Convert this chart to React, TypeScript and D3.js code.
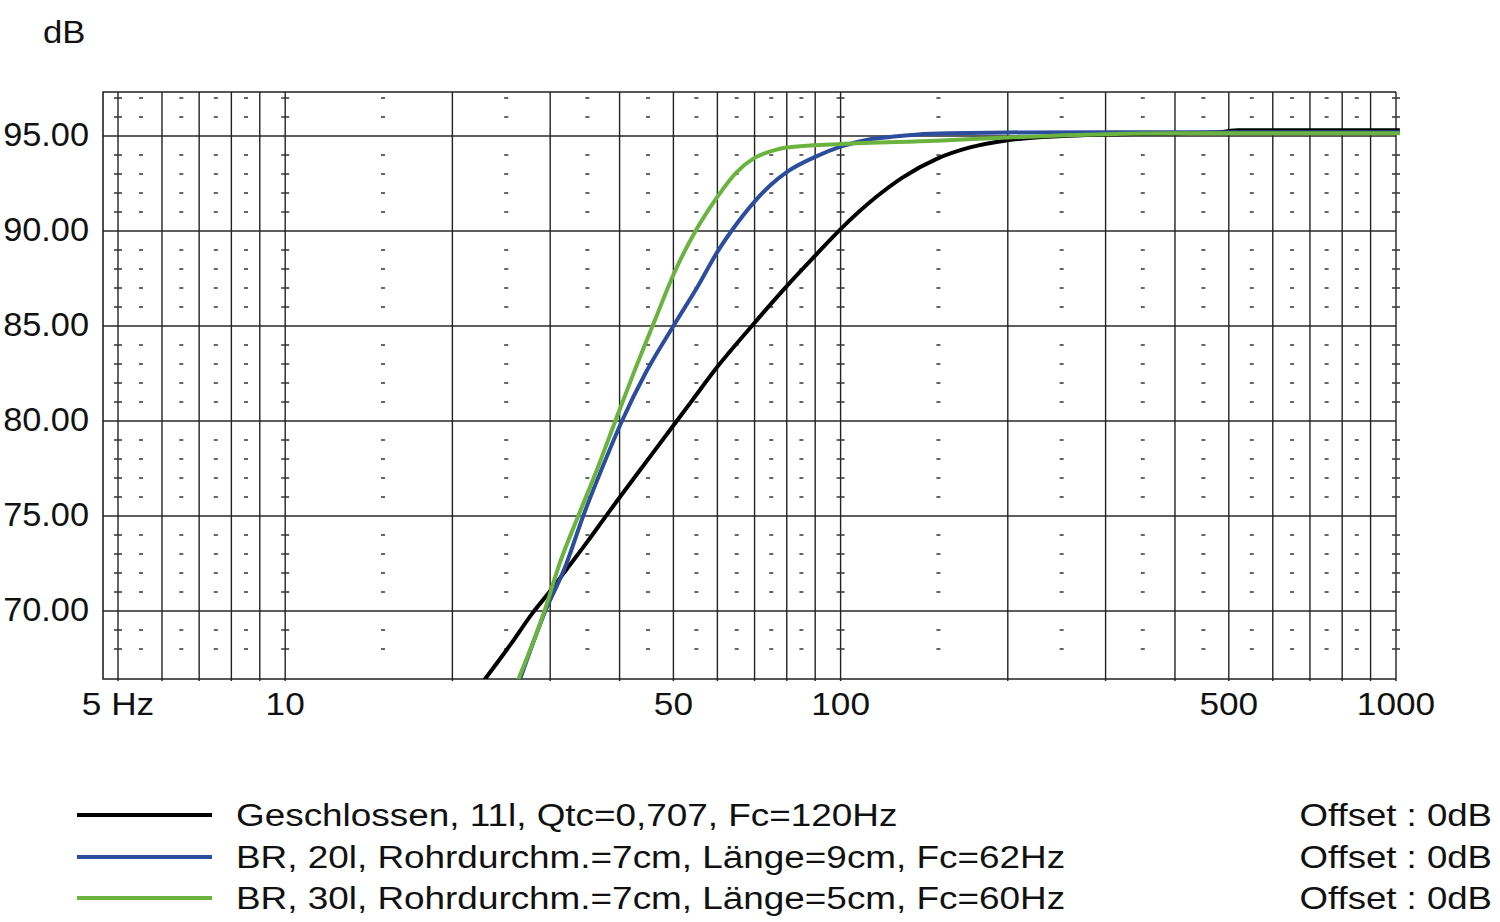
import React from 'react';
import * as d3 from 'd3';

// grid + tick positions
const gridFreqs = [5, 6, 7, 8, 9, 10, 20, 30, 40, 50, 60, 70, 80, 90, 100, 200, 300, 400, 500, 600, 700, 800, 900, 1000];
const markFreqs = [5, 5.5, 6.5, 7.5, 8.5, 10, 15, 25, 35, 45, 55, 65, 75, 85, 100, 150, 250, 350, 450, 550, 650, 750, 850, 1000];
const crossFreqs = [5, 10, 100, 1000];
const markLevels = [68, 69, 71, 72, 73, 74, 76, 77, 78, 79, 81, 82, 83, 84, 86, 87, 88, 89, 91, 92, 93, 94, 96, 97];
const dbTicks = [70, 75, 80, 85, 90, 95];
const freqLabelValues = [5, 10, 50, 100, 500, 1000];
const freqLabelTexts = ['5 Hz', '10', '50', '100', '500', '1000'];

// Geschlossen 11l
const closedFreqs = [22.6, 25.4, 27.9, 30.0, 32.6, 34.9, 37.6, 39.6, 44.8, 50.7, 54.1, 60, 69.2, 80, 90, 100, 116, 129, 149, 171, 200, 250, 300, 400, 480, 520, 700, 1016];
const closedDb = [66.2, 68.2, 69.9, 71.05, 72.45, 73.6, 74.9, 75.8, 77.9, 80.0, 81.1, 82.85, 85.0, 87.1, 88.7, 90.1, 91.8, 92.8, 93.8, 94.4, 94.78, 95.0, 95.08, 95.15, 95.2, 95.3, 95.3, 95.3];

// BR 20l
const br20Freqs = [26.4, 29.4, 32.0, 34.4, 37.3, 40.4, 44.5, 50, 55.6, 60, 63.6, 70, 75, 80, 90, 100, 113, 123, 145, 200, 400, 1016];
const br20Db = [66.3, 70.0, 72.4, 75.0, 77.6, 80.0, 82.5, 85.0, 87.2, 88.9, 90.0, 91.55, 92.45, 93.1, 93.9, 94.44, 94.83, 94.95, 95.12, 95.19, 95.2, 95.2];

// BR 30l
const br30Freqs = [26.2, 29.3, 31.2, 33.7, 36.6, 39.3, 42.5, 46.3, 50, 54.8, 60, 65, 70, 75, 80, 100, 149, 200, 300, 400, 1016];
const br30Db = [66.3, 70.0, 72.5, 75.0, 77.6, 80.0, 82.6, 85.3, 87.7, 90.0, 91.8, 93.1, 93.85, 94.2, 94.4, 94.58, 94.75, 94.92, 95.09, 95.14, 95.15];

const seriesNames = [
  'Geschlossen, 11l, Qtc=0,707, Fc=120Hz',
  'BR, 20l, Rohrdurchm.=7cm, Länge=9cm, Fc=62Hz',
  'BR, 30l, Rohrdurchm.=7cm, Länge=5cm, Fc=60Hz',
];
const seriesColors = ['#000000', '#2c4d9d', '#6bb33f'];
const offsetText = 'Offset : 0dB';

const FONT = "'Liberation Sans', Arial, sans-serif";

function Label({ x, y, anchor = 'start', size, sx = 1, children }) {
  return (
    <g transform={`translate(${x},${y}) scale(${sx},1)`}>
      <text textAnchor={anchor} fontSize={size} fontFamily={FONT} fill="#111">{children}</text>
    </g>
  );
}

export default function App() {
  const width = 1500;
  const height = 922;
  const plotLeft = 103, plotRight = 1396, plotTop = 92, plotBottom = 679;

  const x = d3.scaleLog().domain([5, 1000]).range([118, plotRight]);
  const y = d3.scaleLinear().domain([70, 95]).range([611, 136]);

  const line = d3.line<[number, number]>()
    .x(d => x(d[0]))
    .y(d => y(d[1]))
    .curve(d3.curveMonotoneX);

  const series = [
    d3.zip(closedFreqs, closedDb),
    d3.zip(br20Freqs, br20Db),
    d3.zip(br30Freqs, br30Db),
  ];

  const legendRows = [815, 857, 898];

  return (
    <svg width={width} height={height} style={{ position: 'absolute', left: 0, top: 0, background: '#fff' }}>
      <defs>
        <clipPath id="plotClip">
          <rect x={plotLeft} y={plotTop} width={plotRight - plotLeft + 5} height={plotBottom - plotTop} />
        </clipPath>
      </defs>

      {/* horizontal grid */}
      {dbTicks.map(v => (
        <line key={'h' + v} x1={plotLeft} x2={plotRight} y1={y(v)} y2={y(v)} stroke="#5e5e5e" strokeWidth={2} />
      ))}

      {/* vertical grid */}
      {gridFreqs.map(f => (
        <line key={'v' + f} x1={x(f)} x2={x(f)} y1={plotTop} y2={plotBottom + 2} stroke="#222" strokeWidth={1.4} />
      ))}

      {/* small dash marks */}
      {markLevels.map(lv => markFreqs.map(f => {
        const w = crossFreqs.includes(f) ? 8 : 4;
        return (
          <line key={`m${lv}-${f}`} x1={x(f) - w / 2} x2={x(f) + w / 2} y1={y(lv)} y2={y(lv)} stroke="#333" strokeWidth={1.5} />
        );
      }))}

      {/* frame */}
      <path d={`M${plotRight},${plotTop}H${plotLeft}V${plotBottom}H${plotRight}`} fill="none" stroke="#222" strokeWidth={1.6} />

      {/* curves */}
      <g clipPath="url(#plotClip)">
        {series.map((s, i) => (
          <path key={i} d={line(s as [number, number][]) || ''} fill="none" stroke={seriesColors[i]} strokeWidth={4} strokeLinejoin="round" />
        ))}
      </g>

      {/* y labels */}
      {dbTicks.map(v => (
        <Label key={'yl' + v} x={89} y={y(v) + 10} anchor="end" size={33} sx={1.04}>{v.toFixed(2)}</Label>
      ))}
      <Label x={43} y={43} size={31} sx={1.12}>dB</Label>

      {/* x labels */}
      {freqLabelValues.map((f, i) => (
        <Label key={'xl' + f} x={x(f)} y={715} anchor="middle" size={32} sx={1.1}>{freqLabelTexts[i]}</Label>
      ))}

      {/* legend */}
      {seriesNames.map((name, i) => (
        <g key={'lg' + i}>
          <line x1={77} x2={212} y1={legendRows[i]} y2={legendRows[i]} stroke={seriesColors[i]} strokeWidth={4} />
          <Label x={236} y={legendRows[i] + 11} size={31} sx={1.19}>{name}</Label>
          <Label x={1492} y={legendRows[i] + 11} anchor="end" size={31} sx={1.18}>{offsetText}</Label>
        </g>
      ))}
    </svg>
  );
}
